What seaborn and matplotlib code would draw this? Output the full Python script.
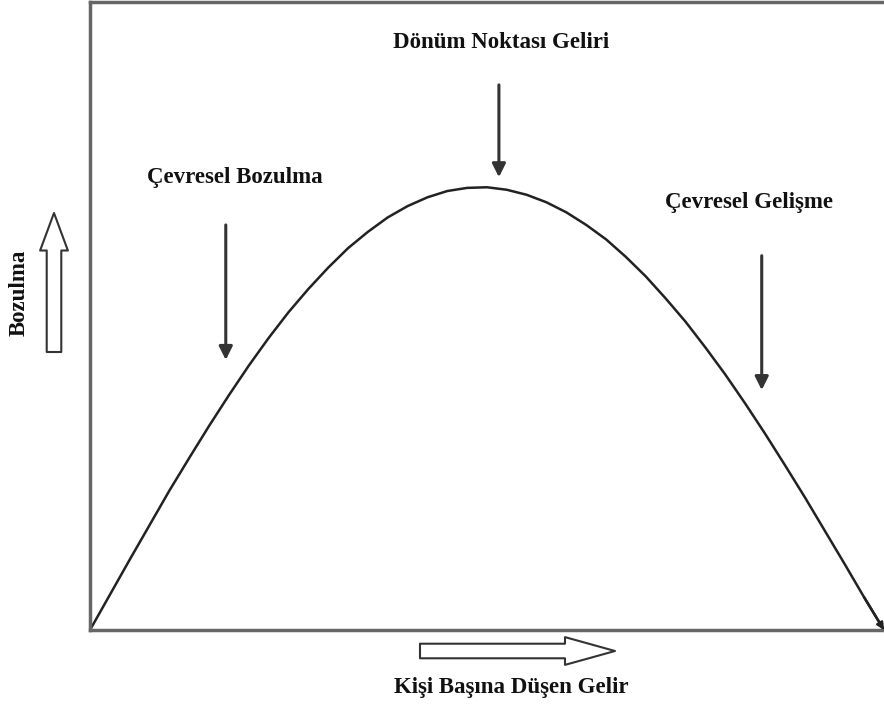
import matplotlib
matplotlib.use("Agg")
import matplotlib.pyplot as plt
import seaborn as sns
import pandas as pd

# curve: income (x) vs environmental degradation (y)
income = [0, 2.5, 5, 7.5, 10, 12.5, 15, 17.5, 20, 22.5, 25, 27.5, 30, 32.5, 35, 37.5, 40,
          42.5, 45, 47.5, 50, 52.5, 55, 57.5, 60, 62.5, 65, 67.5, 70, 72.5, 75, 77.5, 80,
          82.5, 85, 87.5, 90, 92.5, 95, 97.5, 100]
degradation = [0, 5.6, 11.2, 16.7, 22.2, 27.4, 32.5, 37.4, 42.1, 46.5, 50.6, 54.3, 57.7,
               60.8, 63.4, 65.7, 67.5, 68.9, 69.9, 70.4, 70.5, 70.1, 69.3, 68.1, 66.5, 64.5,
               62.2, 59.4, 56.3, 52.8, 49.1, 45.0, 40.7, 36.1, 31.3, 26.3, 21.2, 15.9, 10.6,
               5.2, 0]

# labels inside the plot and the arrows pointing at the curve
labels = ["Çevresel Bozulma", "Dönüm Noktası Geliri", "Çevresel Gelişme"]
label_x = [18.3, 51.8, 83.0]
label_y = [72.0, 93.5, 68.0]
arrow_x = [17.1, 51.5, 84.6]
arrow_top = [64.5, 86.8, 59.6]
arrow_tip = [43.0, 72.1, 38.2]

xlabel = "Kişi Başına Düşen Gelir"
ylabel = "Bozulma"

sns.set_style("white")
plt.rcParams['font.family'] = ['Liberation Serif', 'DejaVu Serif']

df = pd.DataFrame({"income": income, "degradation": degradation})

fig = plt.figure(figsize=(8.84, 7.09), dpi=100)
ax = fig.add_axes([90 / 884, 79 / 709, 794 / 884, 628 / 709])

sns.lineplot(data=df, x="income", y="degradation", ax=ax, color="#222222", linewidth=1.8)

# small arrow head at the end of the curve
ax.annotate("", xy=(income[-1], degradation[-1]), xytext=(income[-2], degradation[-2]),
            arrowprops=dict(arrowstyle="-|>", color="#222222", lw=1.8, mutation_scale=10,
                            shrinkA=0, shrinkB=0),
            annotation_clip=False)

for txt, lx, ly in zip(labels, label_x, label_y):
    ax.text(lx, ly, txt, ha="center", va="center", fontsize=16.5, fontweight="bold", color="#111111")

for x, top, tip in zip(arrow_x, arrow_top, arrow_tip):
    ax.annotate("", xy=(x, tip), xytext=(x, top),
                arrowprops=dict(arrowstyle="-|>", color="#333333", lw=2.2, mutation_scale=20,
                                shrinkA=0, shrinkB=0))

ax.set_xlim(0, 100)
ax.set_ylim(0, 100)
ax.set_xticks([])
ax.set_yticks([])
ax.set_xlabel("")
ax.set_ylabel("")
for side in ["left", "top", "bottom"]:
    ax.spines[side].set_color("#666666")
    ax.spines[side].set_linewidth(2.5)
ax.spines["right"].set_visible(False)

# hollow arrows outside the axes (figure pixels)
hollow = dict(arrowstyle="simple,head_length=27,head_width=20,tail_width=10.5",
              fc="white", ec="#333333", lw=1.5, mutation_scale=1, shrinkA=0, shrinkB=0)
ax.annotate("", xy=(54, 496), xytext=(54, 357), xycoords="figure pixels",
            textcoords="figure pixels", arrowprops=hollow, annotation_clip=False)
hollow_h = dict(hollow, arrowstyle="simple,head_length=36,head_width=20,tail_width=10.5")
ax.annotate("", xy=(615, 58), xytext=(420, 58), xycoords="figure pixels",
            textcoords="figure pixels", arrowprops=hollow_h, annotation_clip=False)

fig.text(511 / 884, 22 / 709, xlabel, ha="center", va="center", fontsize=16.5,
         fontweight="bold", color="#111111")
fig.text(19 / 884, 416 / 709, ylabel, ha="center", va="center", rotation=90, fontsize=16.5,
         fontweight="bold", color="#111111")

fig.savefig("out.png", dpi=100, facecolor="white")
